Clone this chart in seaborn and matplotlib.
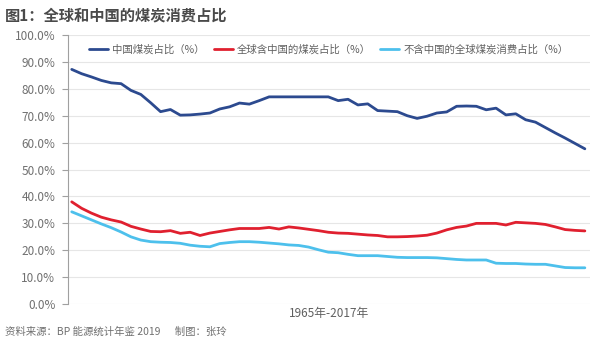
import numpy as np
import pandas as pd
import matplotlib
matplotlib.use("Agg")
import matplotlib.pyplot as plt
import seaborn as sns
from matplotlib.ticker import FuncFormatter

years = list(range(1965, 2018))

china_share = [87.2, 85.6, 84.4, 83.1, 82.2, 81.9, 79.4, 77.9, 74.8, 71.5,
               72.3, 70.2, 70.3, 70.6, 71.0, 72.5, 73.3, 74.7, 74.3, 75.6,
               77.0, 77.0, 77.0, 77.0, 77.0, 77.0, 77.0, 75.6, 76.1, 74.0,
               74.4, 71.9, 71.7, 71.5, 70.0, 69.0, 69.8, 71.0, 71.4, 73.5,
               73.6, 73.5, 72.2, 72.8, 70.3, 70.7, 68.5, 67.6, 65.6, 63.6,
               61.7, 59.7, 57.7]

world_share = [38.0, 35.6, 33.8, 32.3, 31.3, 30.5, 28.9, 27.9, 27.0, 26.9,
               27.3, 26.3, 26.7, 25.5, 26.4, 27.0, 27.6, 28.1, 28.1, 28.1,
               28.5, 27.9, 28.7, 28.3, 27.8, 27.3, 26.7, 26.4, 26.3, 26.0,
               25.7, 25.5, 25.0, 25.0, 25.1, 25.3, 25.6, 26.4, 27.6, 28.5,
               29.0, 30.0, 30.0, 30.0, 29.4, 30.4, 30.2, 30.0, 29.6, 28.7,
               27.7, 27.4, 27.2]

world_ex_china = [34.3, 32.8, 31.3, 29.8, 28.4, 26.8, 25.0, 23.8, 23.2, 23.0,
                  22.9, 22.6, 21.9, 21.5, 21.3, 22.5, 22.9, 23.2, 23.2, 23.0,
                  22.7, 22.4, 22.0, 21.8, 21.2, 20.2, 19.3, 19.1, 18.5, 18.0,
                  18.0, 18.0, 17.7, 17.4, 17.3, 17.3, 17.3, 17.2, 16.9, 16.6,
                  16.4, 16.4, 16.4, 15.2, 15.1, 15.1, 14.9, 14.8, 14.8, 14.2,
                  13.6, 13.5, 13.5]

series_names = ["中国煤炭占比（%）", "全球含中国的煤炭占比（%）", "不含中国的全球煤炭消费占比（%）"]
colors = ["#2C4A8F", "#E0202F", "#4DC0EC"]
y_ticks = list(range(0, 101, 10))
title = "图1：全球和中国的煤炭消费占比"
x_label = "1965年-2017年"
source = "资料来源：BP 能源统计年鉴 2019      制图：张玲"

df = pd.concat([
    pd.DataFrame({"year": years, "value": vals, "series": name})
    for name, vals in zip(series_names, [china_share, world_share, world_ex_china])
])

sns.set_theme(style="white")
plt.rcParams['font.family'] = ['Noto Sans CJK SC', 'DejaVu Sans']

fig = plt.figure(figsize=(6.0, 3.46), dpi=100)
ax = fig.add_axes([0.113, 0.121, 0.870, 0.778])

sns.lineplot(data=df, x="year", y="value", hue="series", hue_order=series_names,
             palette=colors, linewidth=2.0, ax=ax)

ax.set_ylim(0, 100)
ax.set_xlim(1964.6, 2017.5)
ax.set_yticks(y_ticks)
ax.yaxis.set_major_formatter(FuncFormatter(lambda v, p: f"{v:.1f}%"))
ax.set_xticks([])
ax.grid(axis="y", color="#E6E6E6", linewidth=0.8)
ax.set_axisbelow(True)
for s in ["top", "right", "bottom"]:
    ax.spines[s].set_visible(False)
ax.spines["left"].set_color("#A0A0A0")
ax.spines["left"].set_linewidth(0.8)
ax.tick_params(axis="y", left=True, length=4, width=0.8, color="#A0A0A0",
               labelsize=8.5, labelcolor="#707070", pad=5)
ax.set_ylabel("")
ax.set_xlabel(x_label, fontsize=8.5, color="#606060", labelpad=2)

leg = ax.legend(loc="upper center", bbox_to_anchor=(0.5, 1.0), ncol=3, frameon=False,
                fontsize=7.5, handlelength=1.8, columnspacing=0.9, handletextpad=0.4)
for t in leg.get_texts():
    t.set_color("#606060")

fig.text(0.008, 0.955, title, fontsize=11, fontweight="bold", color="#4A4A4A",
         va="center", ha="left")
fig.text(0.008, 0.04, source, fontsize=7.5, color="#707070", style="italic",
         va="center", ha="left")

fig.savefig("out.png", dpi=100)
